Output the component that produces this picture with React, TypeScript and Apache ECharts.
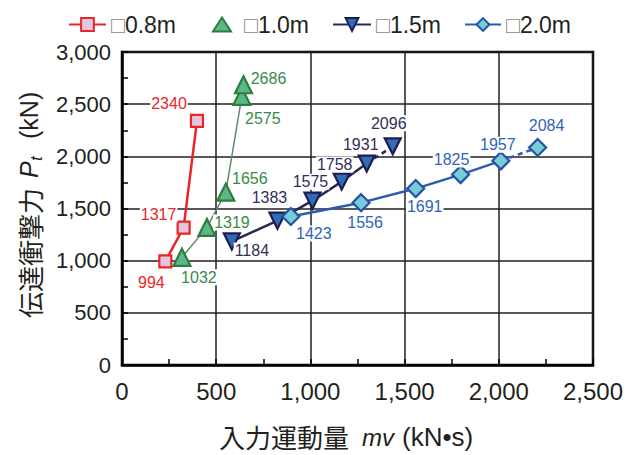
import React, { useEffect, useRef } from "react";
import * as echarts from "echarts";

// Series names (legend entries)
const seriesNames = ["□0.8m", "□1.0m", "□1.5m", "□2.0m"];

// Input momentum mv (kN·s) and transmitted impact force Pt (kN)
const mv08 = [230, 327, 398];
const pt08 = [994, 1317, 2340];
const mv10 = [318, 451, 551, 636, 645];
const pt10 = [1032, 1319, 1656, 2575, 2686];
const mv15 = [583, 825, 1011, 1166, 1299, 1437];
const pt15 = [1184, 1383, 1575, 1758, 1931, 2096];
const mv20 = [896, 1269, 1559, 1797, 2011, 2206];
const pt20 = [1423, 1556, 1691, 1825, 1957, 2084];

// Axis ranges
const xMin = 0, xMax = 2500, xStep = 500;
const yMin = 0, yMax = 3000, yStep = 500;

// Axis titles
const xTitle = ["入力運動量", "mv", "(kN•s)"];
const yTitle = ["伝達衝撃力", "P", "t", "(kN)"];

// Label offsets (px) relative to each marker centre
const off08 = [[-14, 21], [-25, -13], [-28, -17]];
const off10 = [[17, 20], [25, -5], [24, -14], [21, 22], [25, -6]];
const off15 = [[20, 9], [-8, -23], [-2, -19], [-7, -17], [-6, -19], [-4, -23]];
const off20 = [[23, 17], [4, 20], [9, 18], [-9, -15], [-3, -16], [9, -22]];

const FONT = "'Liberation Sans', Arial, 'Noto Sans CJK JP', sans-serif";
const CJK = "'Noto Sans CJK JP', sans-serif";
const INK = "#231f20";

type Style = {
  line: string;
  lineWidth: number;
  fill: string;
  border: string;
  label: string;
  symbol: string;
  size: number;
  rotate: number;
};

const styles: Style[] = [
  { line: "#e8262a", lineWidth: 2.5, fill: "#e2c6de", border: "#e8262a", label: "#e8262a", symbol: "rect", size: 12, rotate: 0 },
  { line: "#5b8c68", lineWidth: 1.5, fill: "#5cb887", border: "#2e7d3e", label: "#3a8a48", symbol: "triangle", size: 17, rotate: 0 },
  { line: "#2b2755", lineWidth: 2.5, fill: "#2f6db5", border: "#1f1d4f", label: "#332d5a", symbol: "triangle", size: 16, rotate: 180 },
  { line: "#2a5cb0", lineWidth: 2.5, fill: "#78ccd6", border: "#2453a6", label: "#2f63b8", symbol: "diamond", size: 17, rotate: 0 },
];

// Legend placement: left edge of each icon, icon box width/height, text gap
const legendLeft = [68, 212, 332, 464];
const legendIconW = [37, 18, 38, 36];
const legendIconH = [16, 14, 16, 16];
const legendTextGap = [0, 8, 0, 0];

function items(xs: number[], ys: number[], offs: number[][]) {
  return xs.map((x, i) => ({ value: [x, ys[i]], label: { offset: offs[i] } }));
}

function makeSeries(idx: number, xs: number[], ys: number[], offs: number[][], dashedLast: boolean) {
  const s = styles[idx];
  const all = items(xs, ys, offs);
  const common = {
    type: "line",
    symbol: s.symbol,
    symbolSize: s.size,
    symbolRotate: s.rotate,
    itemStyle: { color: s.fill, borderColor: s.border, borderWidth: 2.2 },
    label: {
      show: true,
      position: "inside",
      formatter: (p: any) => String(p.value[1]),
      color: s.label,
      fontSize: 16,
      fontFamily: FONT,
      backgroundColor: "#ffffff",
      padding: [0, 1],
    },
    emphasis: { disabled: true },
  };
  const main: any = {
    ...common,
    name: seriesNames[idx],
    data: dashedLast ? all.slice(0, -1) : all,
    lineStyle: { color: s.line, width: s.lineWidth },
    z: 2 + idx,
  };
  if (!dashedLast) return [main];
  const n = all.length;
  const tail: any = {
    ...common,
    name: seriesNames[idx] + "_tail",
    data: [
      { value: all[n - 2].value, symbol: "none", label: { show: false } },
      all[n - 1],
    ],
    lineStyle: { color: s.line, width: s.lineWidth, type: [5, 4] },
    z: 2 + idx,
  };
  return [tail, main];
}

export default function App() {
  const ref = useRef<HTMLDivElement>(null);

  useEffect(() => {
    if (!ref.current) return;
    const chart = echarts.init(ref.current, null, { renderer: "svg" });

    const axisCommon = {
      type: "value",
      axisLine: { show: true, lineStyle: { color: "#000", width: 2.5 } },
      axisTick: { show: true, inside: true, length: 6, lineStyle: { color: "#000", width: 1.5 } },
      minorTick: { show: true, splitNumber: 2, length: 6, lineStyle: { color: "#000", width: 1.5 } },
      splitLine: { show: true, lineStyle: { color: INK, width: 1.5 } },
    };

    const legends = seriesNames.map((name, i) => ({
      data: i === 1 ? [{ name, icon: "triangle" }] : [{ name }],
      left: legendLeft[i],
      top: 13,
      padding: 0,
      itemWidth: legendIconW[i],
      itemHeight: legendIconH[i],
      itemGap: 0,
      selectedMode: false,
      formatter: (n: string) => `{b|${n.slice(0, 1)}}{t|${n.slice(1)}}`,
      textStyle: {
        fontSize: 23,
        color: INK,
        fontFamily: FONT,
        padding: [0, 0, 0, legendTextGap[i]],
        rich: {
          b: { fontSize: 23, color: "#8a8888", fontFamily: FONT },
          t: { fontSize: 23, color: INK, fontFamily: FONT },
        },
      },
    }));

    const rotated = Math.PI / 2;

    chart.setOption({
      animation: false,
      backgroundColor: "#ffffff",
      grid: {
        left: 122,
        top: 52,
        right: 42,
        bottom: 90,
        show: true,
        borderColor: "#000",
        borderWidth: 2.5,
        containLabel: false,
      },
      legend: legends,
      xAxis: {
        ...axisCommon,
        min: xMin,
        max: xMax,
        interval: xStep,
        axisLabel: { fontSize: 24, color: INK, fontFamily: FONT, margin: 14 },
      },
      yAxis: {
        ...axisCommon,
        min: yMin,
        max: yMax,
        interval: yStep,
        axisLabel: { fontSize: 22, color: INK, fontFamily: FONT, margin: 11 },
      },
      graphic: [
        // x-axis title
        {
          type: "text", x: 219, y: 436,
          style: { text: xTitle[0], font: `26px ${CJK}`, fill: INK, align: "left", verticalAlign: "middle" },
        },
        {
          type: "text", x: 362, y: 437,
          style: { text: xTitle[1], font: `italic 24px ${FONT}`, fill: INK, align: "left", verticalAlign: "middle" },
        },
        {
          type: "text", x: 402, y: 437,
          style: { text: xTitle[2], font: `26px ${FONT}`, fill: INK, align: "left", verticalAlign: "middle" },
        },
        // y-axis title (rotated, reads bottom to top)
        {
          type: "text", x: 29, y: 318, rotation: rotated,
          style: { text: yTitle[0], font: `26px ${CJK}`, fill: INK, align: "left", verticalAlign: "middle" },
        },
        {
          type: "text", x: 29, y: 178, rotation: rotated,
          style: { text: yTitle[1], font: `italic 25px ${FONT}`, fill: INK, align: "left", verticalAlign: "middle" },
        },
        {
          type: "text", x: 36, y: 161, rotation: rotated,
          style: { text: yTitle[2], font: `italic 17px ${FONT}`, fill: INK, align: "left", verticalAlign: "middle" },
        },
        {
          type: "text", x: 29, y: 139, rotation: rotated,
          style: { text: yTitle[3], font: `25px ${FONT}`, fill: INK, align: "left", verticalAlign: "middle" },
        },
      ],
      series: [
        ...makeSeries(0, mv08, pt08, off08, false),
        ...makeSeries(1, mv10, pt10, off10, false),
        ...makeSeries(2, mv15, pt15, off15, true),
        ...makeSeries(3, mv20, pt20, off20, true),
      ],
    } as any);

    return () => chart.dispose();
  }, []);

  return <div ref={ref} style={{ width: 635, height: 455, position: "absolute", left: 0, top: 0 }} />;
}
